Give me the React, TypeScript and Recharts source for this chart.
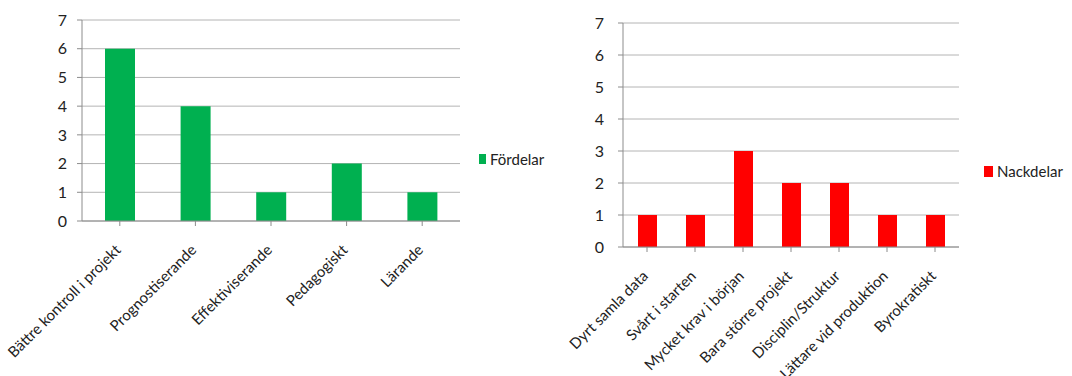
import React from "react";
import { BarChart, Bar, XAxis, YAxis, CartesianGrid, Legend } from "recharts";

const fordelarCategories = [
  "Bättre kontroll i projekt",
  "Prognostiserande",
  "Effektiviserande",
  "Pedagogiskt",
  "Lärande",
];
const fordelarValues = [6, 4, 1, 2, 1];

const nackdelarCategories = [
  "Dyrt samla data",
  "Svårt i starten",
  "Mycket krav i början",
  "Bara större projekt",
  "Disciplin/Struktur",
  "Lättare vid produktion",
  "Byrokratiskt",
];
const nackdelarValues = [1, 1, 3, 2, 2, 1, 1];

const yTicks = [0, 1, 2, 3, 4, 5, 6, 7];

const FONT = "Lato, 'Open Sans', sans-serif";
const AXIS = "#8c8c8c";
const GRID = "#b4b4b4";
const TEXT = "#222";

function SlantTick({ x, y, payload }: any) {
  return (
    <g transform={`translate(${x + 2},${y + 25})`}>
      <text
        textAnchor="end"
        transform="rotate(-45)"
        fontSize={15}
        fill={TEXT}
        fontFamily={FONT}
      >
        {payload.value}
      </text>
    </g>
  );
}

function makeLegend(color: string, w: number, h: number) {
  return ({ payload }: any) => (
    <div style={{ fontFamily: FONT, fontSize: 15, color: TEXT, display: "flex", alignItems: "center" }}>
      {(payload || []).map((p: any) => (
        <span key={p.value} style={{ display: "flex", alignItems: "center" }}>
          <span style={{ display: "inline-block", width: w, height: h, background: color, marginRight: 4 }} />
          {p.value}
        </span>
      ))}
    </div>
  );
}

function SideChart({
  categories,
  values,
  name,
  color,
  width,
  yWidth,
  top,
  bottomHeight,
  right,
  barSize,
  tickMargin,
  legendLeft,
  legendTop,
  sq,
}: any) {
  const data = categories.map((c: string, i: number) => ({ name: c, value: values[i] }));
  return (
    <BarChart width={width} height={376} data={data} margin={{ top, right, bottom: 0, left: 0 }}>
      <CartesianGrid vertical={false} stroke={GRID} />
      <XAxis
        dataKey="name"
        interval={0}
        height={bottomHeight}
        stroke={AXIS}
        tickSize={5}
        tickMargin={0}
        tick={<SlantTick />}
      />
      <YAxis
        width={yWidth}
        domain={[0, 7]}
        ticks={yTicks}
        interval={0}
        stroke={AXIS}
        tickSize={5}
        tickMargin={tickMargin}
        tick={{ fontSize: 16, fill: TEXT, fontFamily: FONT }}
      />
      <Legend
        content={makeLegend(color, sq[0], sq[1])}
        wrapperStyle={{ left: legendLeft, top: legendTop, width: "auto", height: 0, overflow: "visible" }}
      />
      <Bar dataKey="value" name={name} fill={color} barSize={barSize} isAnimationActive={false} />
    </BarChart>
  );
}

export default function App() {
  return (
    <div style={{ position: "absolute", left: 0, top: 0, width: 1072, height: 376, display: "flex", background: "#fff" }}>
      <SideChart
        categories={fordelarCategories}
        values={fordelarValues}
        name="Fördelar"
        color="#00b050"
        width={560}
        yWidth={82}
        top={20}
        bottomHeight={155}
        right={100}
        barSize={30}
        tickMargin={10}
        legendLeft={479}
        legendTop={150}
        sq={[7, 10]}
      />
      <SideChart
        categories={nackdelarCategories}
        values={nackdelarValues}
        name="Nackdelar"
        color="#ff0000"
        width={512}
        yWidth={63}
        top={23}
        bottomHeight={129}
        right={113}
        barSize={19}
        tickMargin={14}
        legendLeft={424}
        legendTop={162}
        sq={[9, 11]}
      />
    </div>
  );
}
